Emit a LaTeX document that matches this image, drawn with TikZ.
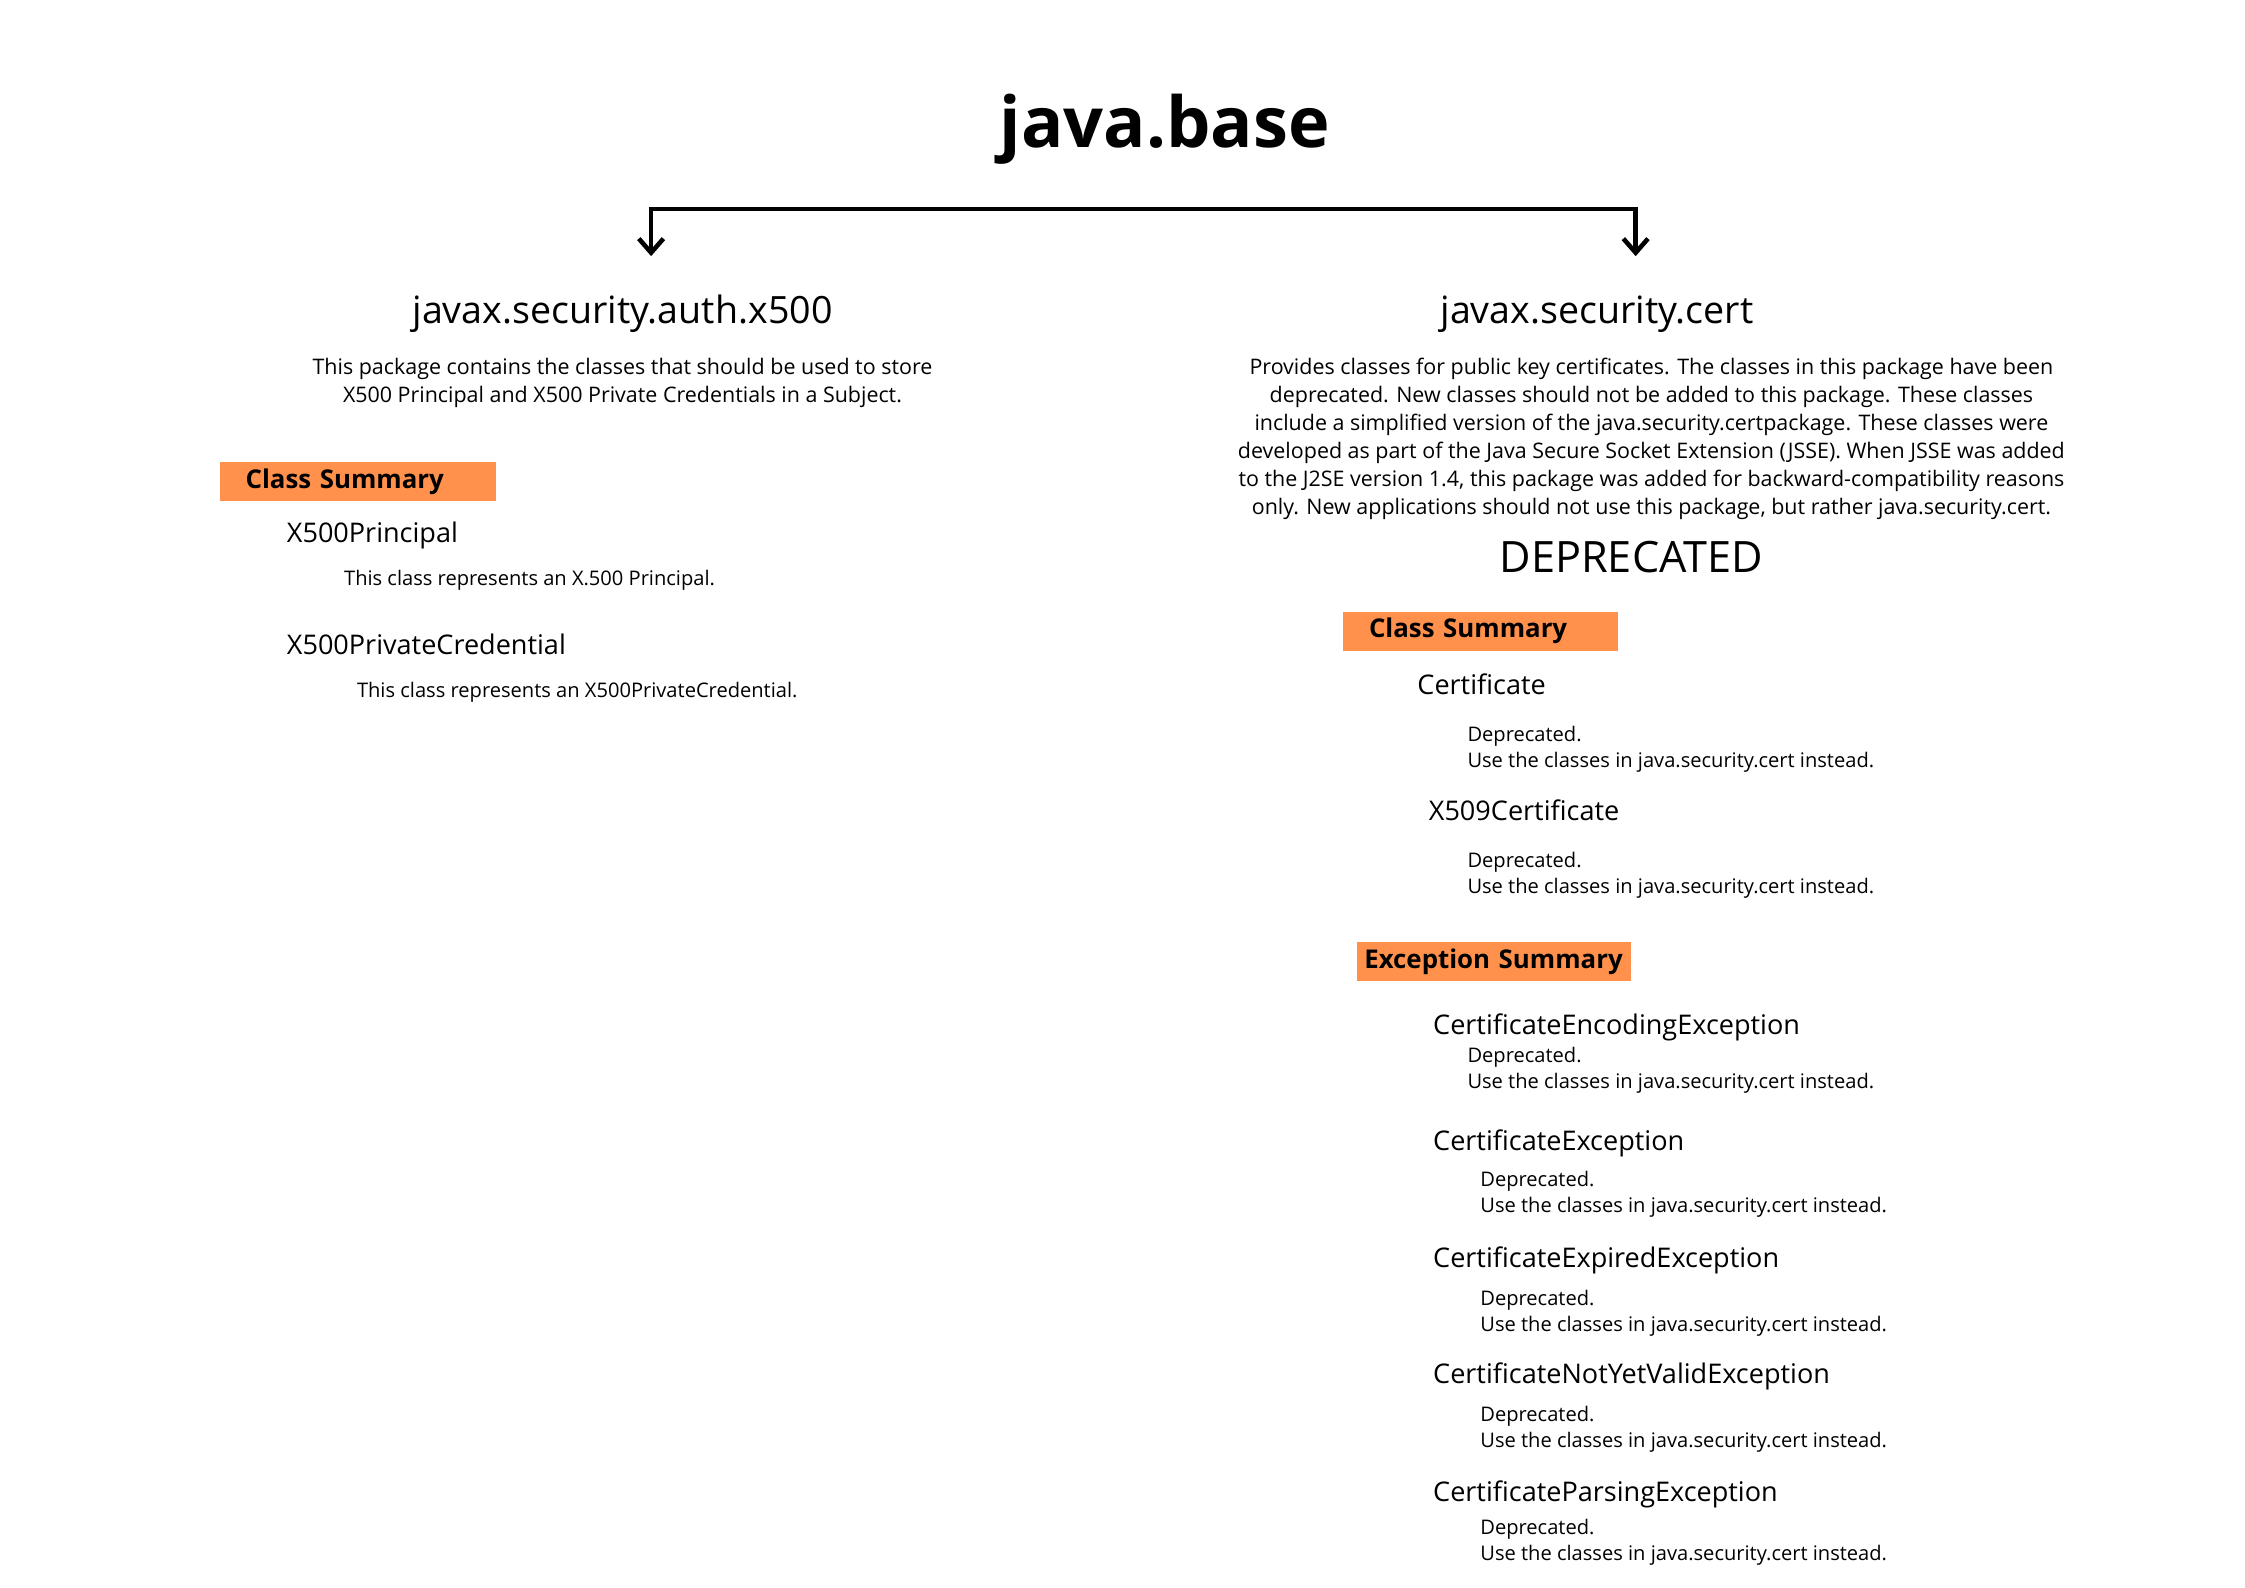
\documentclass[tikz,border=0pt]{standalone}
\usepackage{fontspec}
\setmainfont{Open Sans}
\usepackage{tikz}
\usetikzlibrary{arrows.meta,positioning}
\definecolor{summaryorange}{HTML}{FF914D}

\tikzset{
  maintitle/.style={anchor=base, inner sep=0pt, font=\bfseries\fontsize{20}{24}\selectfont},
  pkgname/.style={anchor=base, inner sep=0pt, font=\fontsize{10.7}{13}\selectfont},
  pkgdesc/.style={anchor=north, inner sep=0pt, align=center, font=\fontsize{6.1}{7.95}\selectfont},
  summarybar/.style={anchor=west, fill=summaryorange, inner ysep=0pt, minimum height=0.39cm,
    align=left, font=\bfseries\fontsize{7.35}{9}\selectfont},
  classname/.style={anchor=base west, inner sep=0pt, font=\fontsize{7.7}{9}\selectfont},
  classdesc/.style={anchor=north west, inner sep=0pt, align=left, font=\fontsize{5.72}{7.45}\selectfont},
  conn/.style={line width=1.3pt, {Straight Barb[length=4pt,width=7pt]}-{Straight Barb[length=4pt,width=7pt]}}
}

\begin{document}
\begin{tikzpicture}[x=0.01431cm,y=-0.01431cm]
\useasboundingbox (0,0) rectangle (1568.8,1109);

\node[maintitle] (base) at (814,103) {java.base};

% split to both packages
\coordinate (split L) at (455,146);
\coordinate (split R) at (1143,146);
\coordinate (tip L) at (455,179);
\coordinate (tip R) at (1143,179);
\draw[conn] (tip L) -- (split L) -- (split R) -- (tip R);

% left package
\node[pkgname] (auth) at (435,226) {javax.security.auth.x500};
\node[pkgdesc] (authdesc) at (435,250) {This package contains the classes that should be used to store\\
X500 Principal and X500 Private Credentials in a Subject.};
\node[summarybar, inner xsep=0.26cm, text width=2.24cm] (authsum) at (153,336.5) {Class Summary};
\node[classname] (principal) at (200,379) {X500Principal};
\node[classdesc] (principaldesc) at (240,398) {This class represents an X.500 Principal.};
\node[classname] (credential) at (200,457) {X500PrivateCredential};
\node[classdesc] (credentialdesc) at (249,476) {This class represents an X500PrivateCredential.};

% right package
\node[pkgname] (cert) at (1116,226) {javax.security.cert};
\node[pkgdesc] (certdesc) at (1154,250) {Provides classes for public key certificates. The classes in this package have been\\
deprecated. New classes should not be added to this package. These classes\\
include a simplified version of the java.security.certpackage. These classes were\\
developed as part of the Java Secure Socket Extension (JSSE). When JSSE was added\\
to the J2SE version 1.4, this package was added for backward-compatibility reasons\\
only. New applications should not use this package, but rather java.security.cert.};
\node[anchor=base, inner sep=0pt, font=\fontsize{12.3}{14}\selectfont] (deprecated) at (1140,400) {DEPRECATED};

\node[summarybar, inner xsep=0.26cm, text width=2.23cm] (certsum) at (938,441) {Class Summary};
\node[classname] (certificate) at (990,485) {Certificate};
\node[classdesc] (certificatedesc) at (1025,507) {Deprecated.\\Use the classes in java.security.cert instead.};
\node[classname] (x509) at (998,573) {X509Certificate};
\node[classdesc] (x509desc) at (1025,595) {Deprecated.\\Use the classes in java.security.cert instead.};

\node[summarybar, inner xsep=0.07cm, text width=2.6cm] (excsum) at (948,672) {Exception Summary};
\node[classname] (encoding) at (1001,723) {CertificateEncodingException};
\node[classdesc] (encodingdesc) at (1025,731) {Deprecated.\\Use the classes in java.security.cert instead.};
\node[classname] (exception) at (1001,804) {CertificateException};
\node[classdesc] (exceptiondesc) at (1034,818) {Deprecated.\\Use the classes in java.security.cert instead.};
\node[classname] (expired) at (1001,886) {CertificateExpiredException};
\node[classdesc] (expireddesc) at (1034,901) {Deprecated.\\Use the classes in java.security.cert instead.};
\node[classname] (notyet) at (1001,967) {CertificateNotYetValidException};
\node[classdesc] (notyetdesc) at (1034,982) {Deprecated.\\Use the classes in java.security.cert instead.};
\node[classname] (parsing) at (1001,1049) {CertificateParsingException};
\node[classdesc] (parsingdesc) at (1034,1061) {Deprecated.\\Use the classes in java.security.cert instead.};
\end{tikzpicture}
\end{document}
